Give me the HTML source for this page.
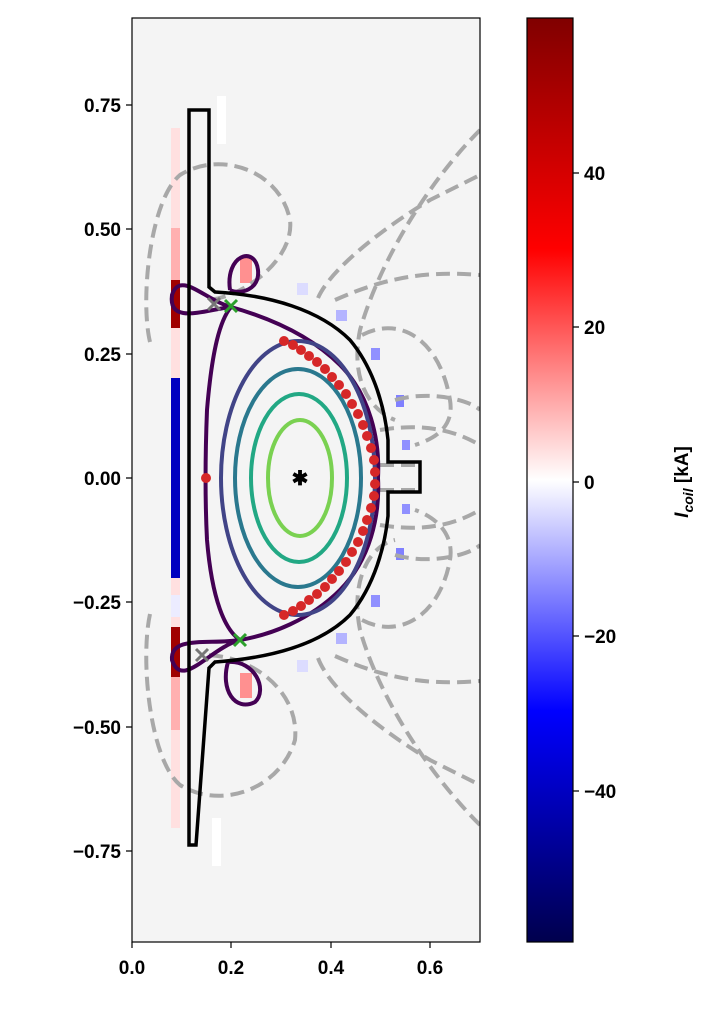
<!DOCTYPE html>
<html><head><meta charset="utf-8"><style>
body{margin:0;background:#fff;width:716px;height:1011px;overflow:hidden}
svg{position:absolute;left:0;top:0}
text{font-family:"Liberation Sans",sans-serif;font-weight:bold;font-size:19px;fill:#000}
</style></head><body>
<svg width="716" height="1011" viewBox="0 0 716 1011">
<defs>
<linearGradient id="cb" x1="0" y1="1" x2="0" y2="0">
<stop offset="0" stop-color="#00004d"/>
<stop offset="0.25" stop-color="#0000ff"/>
<stop offset="0.5" stop-color="#ffffff"/>
<stop offset="0.75" stop-color="#ff0000"/>
<stop offset="1" stop-color="#800000"/>
</linearGradient>
<clipPath id="ax"><rect x="132" y="18" width="348" height="924"/></clipPath>
</defs>
<rect x="132" y="18" width="348" height="924" fill="#f4f4f4"/>
<g clip-path="url(#ax)">
<rect x="171" y="128" width="9" height="700" fill="#ffe0e0"/>
<rect x="171" y="228" width="9" height="55" fill="#ffb0b0"/>
<rect x="171" y="675" width="9" height="55" fill="#ffb0b0"/>
<rect x="171" y="280" width="9" height="48" fill="#a00000"/>
<rect x="171" y="627" width="9" height="50" fill="#a00000"/>
<rect x="171" y="378" width="9" height="200" fill="#0000c0"/>
<rect x="171" y="595" width="9" height="22" fill="#ececff"/>
<rect x="217" y="96" width="9" height="48" fill="#fff"/>
<rect x="212" y="818" width="9" height="48" fill="#fff"/>
<rect x="240" y="258" width="12" height="25" fill="#ff9090"/>
<rect x="240" y="673" width="12" height="25" fill="#ff9090"/>
<rect x="297" y="283" width="11" height="12" fill="#dcdcff"/>
<rect x="297" y="660" width="11" height="12" fill="#dcdcff"/>
<rect x="336" y="310" width="11" height="11" fill="#b4b4ff"/>
<rect x="336" y="633" width="11" height="11" fill="#b4b4ff"/>
<rect x="371" y="348" width="9" height="12" fill="#9090ff"/>
<rect x="371" y="595" width="9" height="12" fill="#9090ff"/>
<rect x="396" y="395" width="8" height="12" fill="#8080ff"/>
<rect x="396" y="548" width="8" height="12" fill="#8080ff"/>
<rect x="402" y="440" width="8" height="10" fill="#9090ff"/>
<rect x="402" y="504" width="8" height="10" fill="#9090ff"/>
<g fill="none" stroke="#a8a8a8" stroke-width="4" stroke-dasharray="14,7">
<path d="M150,342 C140,300 150,200 180,175 C220,150 280,170 290,220 C295,260 240,300 205,300"/>
<path d="M150,614 C140,660 150,760 180,785 C220,810 280,790 295,740 C300,690 250,655 205,655"/>
<path d="M318,298 C330,270 380,230 430,200 C450,190 470,180 480,175"/>
<path d="M318,658 C330,690 380,730 430,760 C450,770 470,780 480,785"/>
<path d="M335,300 C380,280 420,270 480,275"/>
<path d="M335,656 C380,676 420,686 480,681"/>
<path d="M480,130 C430,180 380,260 360,330 C350,380 370,410 395,420"/>
<path d="M480,825 C430,775 380,700 360,630 C350,580 370,545 395,540"/>
<path d="M362,335 C400,315 440,340 450,400 C455,430 430,440 415,445"/>
<path d="M362,620 C400,640 440,615 450,560 C455,530 430,515 415,510"/>
<path d="M395,400 C430,390 470,400 480,410"/>
<path d="M395,555 C430,565 470,555 480,545"/>
<path d="M380,430 C440,420 470,440 480,445"/>
<path d="M380,525 C440,535 470,515 480,510"/>
<path d="M380,465 L420,465"/><path d="M380,490 L420,490"/>
</g>
<g fill="none" stroke-width="4">
<path stroke="#440154" d="M231,307 C270,318 310,335 340,365 C370,395 380,440 378,478 C380,516 370,560 340,590 C310,620 270,635 240,640 C225,630 212,600 207,540 C205,500 205,460 207,410 C212,350 220,320 231,307 Z"/>
<path stroke="#440154" d="M231,307 C205,300 180,270 172,295 C168,325 205,310 231,307"/>
<path stroke="#440154" d="M240,640 C210,648 182,690 172,660 C170,635 210,645 240,640"/>
<path stroke="#440154" d="M230,290 C225,255 255,245 258,270 C260,290 240,295 230,290"/>
<path stroke="#440154" d="M228,662 C220,690 235,712 255,702 C268,690 255,660 228,662"/>
<ellipse stroke="#414487" cx="298" cy="478" rx="77" ry="137"/>
<ellipse stroke="#2a788e" cx="298" cy="478" rx="63" ry="109"/>
<ellipse stroke="#22a884" cx="299" cy="478" rx="48" ry="84"/>
<ellipse stroke="#7ad151" cx="300" cy="478" rx="32" ry="58"/>
</g>
<path fill="none" stroke="#000" stroke-width="3.5" d="M189,110 L209,110 L209,287 L215,292 C270,295 320,310 350,340 C375,370 385,410 388,440 L388,462 L420,462 L420,492 L388,492 L388,516 C385,545 375,585 350,615 C320,645 270,658 215,662 L209,668 L196,845 L189,845 Z"/>
<g fill="#d62728">
<circle cx="206" cy="478" r="5"/>
<circle cx="284" cy="341" r="5"/><circle cx="293" cy="345" r="5"/><circle cx="301" cy="350" r="5"/><circle cx="309" cy="356" r="5"/><circle cx="317" cy="362" r="5"/><circle cx="325" cy="369" r="5"/><circle cx="332" cy="377" r="5"/><circle cx="339" cy="385" r="5"/><circle cx="346" cy="394" r="5"/><circle cx="352" cy="404" r="5"/><circle cx="358" cy="414" r="5"/><circle cx="363" cy="425" r="5"/><circle cx="367" cy="436" r="5"/><circle cx="371" cy="448" r="5"/><circle cx="374" cy="460" r="5"/><circle cx="375" cy="472" r="5"/>
<circle cx="375" cy="484" r="5"/><circle cx="374" cy="496" r="5"/><circle cx="371" cy="508" r="5"/><circle cx="367" cy="520" r="5"/><circle cx="363" cy="531" r="5"/><circle cx="358" cy="542" r="5"/><circle cx="352" cy="552" r="5"/><circle cx="346" cy="562" r="5"/><circle cx="339" cy="571" r="5"/><circle cx="332" cy="579" r="5"/><circle cx="325" cy="587" r="5"/><circle cx="317" cy="594" r="5"/><circle cx="309" cy="600" r="5"/><circle cx="301" cy="606" r="5"/><circle cx="293" cy="611" r="5"/><circle cx="284" cy="615" r="5"/>
</g>
<g stroke-width="3">
<path stroke="#777" d="M208,298 L220,310 M220,298 L208,310"/>
<path stroke="#777" d="M196,649 L208,661 M208,649 L196,661"/>
<path stroke="#2ca02c" d="M225,300 L237,312 M237,300 L225,312"/>
<path stroke="#2ca02c" d="M234,634 L246,646 M246,634 L234,646"/>
</g>
<text x="300" y="485" text-anchor="middle" style="font-size:20px">✱</text>
</g>
<rect x="132" y="18" width="348" height="924" fill="none" stroke="#000" stroke-width="1.2"/>
<g stroke="#000" stroke-width="1.2">
<path d="M132,942v6M231,942v6M331,942v6M430,942v6"/>
<path d="M132,105h-6M132,229h-6M132,354h-6M132,478h-6M132,602h-6M132,727h-6M132,851h-6"/>
</g>
<g text-anchor="middle">
<text x="132" y="974">0.0</text><text x="231" y="974">0.2</text><text x="331" y="974">0.4</text><text x="430" y="974">0.6</text>
</g>
<g text-anchor="end">
<text x="121" y="112">0.75</text><text x="121" y="236">0.50</text><text x="121" y="361">0.25</text><text x="121" y="485">0.00</text>
<text x="121" y="609">−0.25</text><text x="121" y="734">−0.50</text><text x="121" y="858">−0.75</text>
</g>
<rect x="527" y="18" width="46" height="924" fill="url(#cb)" stroke="#000" stroke-width="1.2"/>
<g stroke="#000" stroke-width="1.2">
<path d="M573,173h6M573,327h6M573,482h6M573,636h6M573,791h6"/>
</g>
<text x="584" y="180">40</text><text x="584" y="334">20</text><text x="584" y="489">0</text>
<text x="584" y="643">−20</text><text x="584" y="798">−40</text>
<text transform="translate(688,482) rotate(-90)" text-anchor="middle"><tspan font-style="italic">I</tspan><tspan font-style="italic" style="font-size:14px" dy="5">coil</tspan><tspan dy="-5"> [kA]</tspan></text>
</svg>
</body></html>
